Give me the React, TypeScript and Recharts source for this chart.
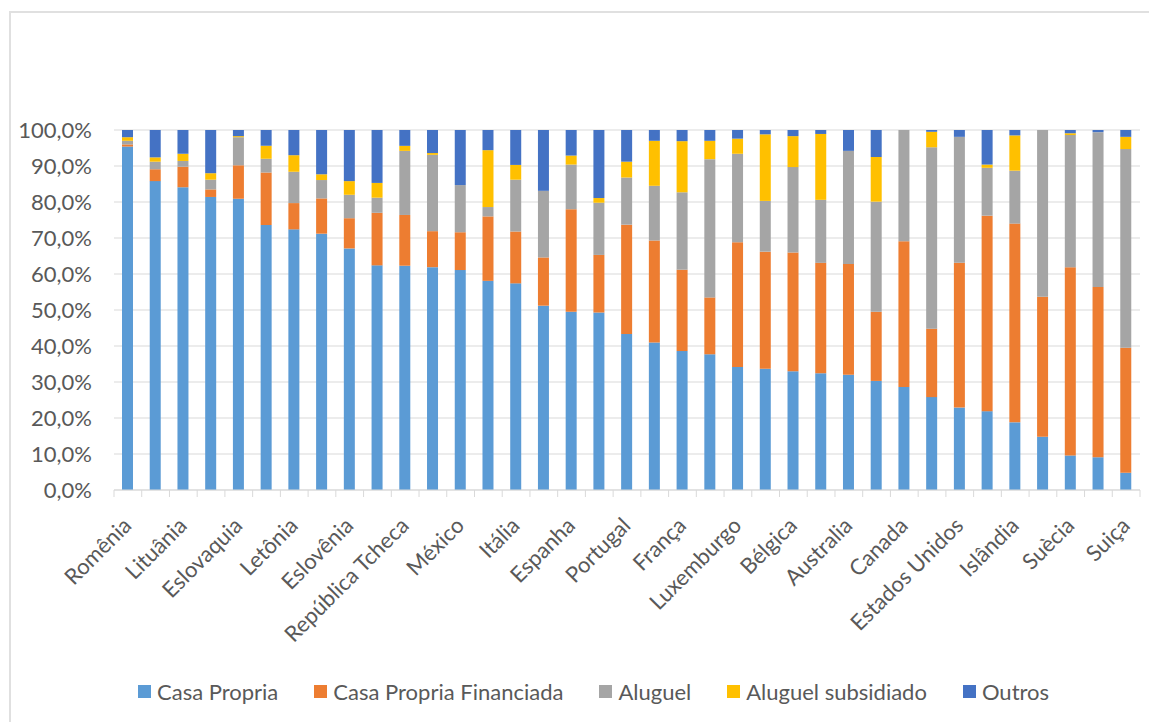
import React from "react";
import { BarChart, Bar, XAxis, YAxis, CartesianGrid, Legend } from "recharts";

const categories = [
  "Romênia", "Hungria", "Lituânia", "Bulgária", "Eslovaquia", "Estônia", "Letônia", "Croácia",
  "Eslovênia", "Polônia", "República Tcheca", "Grécia", "México", "Malta", "Itália", "Chile",
  "Espanha", "Japão", "Portugal", "Irlanda", "França", "Coreia", "Luxemburgo", "Finlândia",
  "Bélgica", "Reino Unido", "Australia", "Áustria", "Canada", "Alemanha", "Estados Unidos", "Noruega",
  "Islândia", "Dinamarca", "Suècia", "Holanda", "Suiça",
];

const casaPropria = [
  95.4, 85.8, 84.1, 81.4, 80.9, 73.6, 72.4, 71.2, 67.1, 62.4, 62.3, 61.9, 61.1, 58.1, 57.4, 51.2,
  49.5, 49.3, 43.3, 41.0, 38.6, 37.7, 34.2, 33.7, 33.0, 32.4, 32.0, 30.3, 28.6, 25.8, 22.9, 21.9,
  18.8, 14.8, 9.6, 9.1, 4.8,
];
const casaPropriaFinanciada = [
  0.6, 3.3, 5.7, 2.1, 9.3, 14.6, 7.3, 9.8, 8.4, 14.6, 14.1, 10.0, 10.5, 17.9, 14.4, 13.4,
  28.5, 16.0, 30.4, 28.3, 22.6, 15.8, 34.6, 32.5, 33.0, 30.7, 30.8, 19.2, 40.5, 19.0, 40.2, 54.3,
  55.2, 38.9, 52.3, 47.3, 34.7,
];
const aluguel = [
  1.0, 2.1, 1.6, 2.7, 7.8, 3.8, 8.7, 5.1, 6.5, 4.2, 17.8, 21.2, 13.1, 2.6, 14.4, 18.5,
  12.4, 14.5, 13.1, 15.2, 21.5, 38.4, 24.6, 14.1, 23.7, 17.5, 31.4, 30.6, 30.9, 50.4, 35.0, 13.3,
  14.7, 46.3, 36.7, 43.0, 55.2,
];
const aluguelSubsidiado = [
  1.0, 1.2, 2.0, 1.8, 0.3, 3.6, 4.6, 1.6, 3.8, 4.1, 1.4, 0.5, 0.0, 15.8, 4.1, 0.0,
  2.5, 1.3, 4.4, 12.5, 14.2, 5.1, 4.2, 18.5, 8.6, 18.3, 0.0, 12.4, 0.0, 4.3, 0.0, 0.9,
  9.8, 0.0, 0.5, 0.0, 3.4,
];
const outros = [
  2.0, 7.6, 6.6, 12.0, 1.7, 4.4, 7.0, 12.3, 14.2, 14.7, 4.4, 6.4, 15.3, 5.6, 9.7, 16.9,
  7.1, 18.9, 8.8, 3.0, 3.1, 3.0, 2.4, 1.2, 1.7, 1.1, 5.8, 7.5, 0.0, 0.5, 1.9, 9.6,
  1.5, 0.0, 0.9, 0.6, 1.9,
];

const yTicks = [0, 10, 20, 30, 40, 50, 60, 70, 80, 90, 100];

const seriesNames = ["Casa Propria", "Casa Propria Financiada", "Aluguel", "Aluguel subsidiado", "Outros"];
const seriesKeys = ["casa", "fin", "alug", "sub", "out"];
const seriesColors = ["#5B9BD5", "#ED7D31", "#A5A5A5", "#FFC000", "#4472C4"];

const data = categories.map((name, i) => ({
  name,
  casa: casaPropria[i],
  fin: casaPropriaFinanciada[i],
  alug: aluguel[i],
  sub: aluguelSubsidiado[i],
  out: outros[i],
}));

const FONT = "Lato, 'Noto Sans', sans-serif";
const FS = 22;
const TEXT = "#595959";
const GRID = "#D9D9D9";

const CHART_W = 1149;
const CHART_H = 714;
const MARGIN = { top: 122, right: 17, bottom: 11, left: 0 };
const Y_W = 106;
const PLOT_W = CHART_W - MARGIN.left - MARGIN.right - Y_W;

function XTick(props: any) {
  const { x, y, index, payload } = props;
  const bw = PLOT_W / categories.length;
  const last = index === categories.length - 1;
  const tx = x + 5;
  const ty = y + 37;
  return (
    <g>
      <line x1={x - bw / 2} y1={y} x2={x - bw / 2} y2={y + 7} stroke={GRID} strokeWidth={1} />
      {last && <line x1={x + bw / 2} y1={y} x2={x + bw / 2} y2={y + 7} stroke={GRID} strokeWidth={1} />}
      {index % 2 === 0 && (
        <text
          x={tx}
          y={ty}
          textAnchor="end"
          fill={TEXT}
          fontSize={FS}
          fontFamily={FONT}
          transform={`rotate(-45, ${tx}, ${ty})`}
        >
          {payload.value}
        </text>
      )}
    </g>
  );
}

function LegendContent() {
  return (
    <div
      style={{
        display: "flex",
        alignItems: "center",
        paddingLeft: 130,
        fontFamily: FONT,
        fontSize: FS,
        color: TEXT,
        height: 40,
        whiteSpace: "nowrap",
      }}
    >
      {seriesNames.map((n, i) => (
        <div key={n} style={{ display: "flex", alignItems: "center", marginRight: 36 }}>
          <span style={{ width: 13, height: 13, background: seriesColors[i], display: "inline-block", marginRight: 6 }} />
          <span>{n}</span>
        </div>
      ))}
    </div>
  );
}

const fmt = (v: number) => `${v.toFixed(1).replace(".", ",")}%`;

export default function App() {
  return (
    <div style={{ position: "relative", width: CHART_W, height: CHART_H, overflow: "hidden", background: "#fff" }}>
      <div
        style={{
          position: "absolute",
          left: 1,
          top: 3,
          width: 1300,
          height: 900,
          borderLeft: "2px solid #E0E0E0",
          borderTop: "2px solid #E0E0E0",
          boxSizing: "border-box",
        }}
      />
      <div style={{ position: "absolute", left: 0, top: 0 }}>
        <BarChart width={CHART_W} height={CHART_H} data={data} margin={MARGIN} barCategoryGap={0}>
          <CartesianGrid vertical={false} stroke={GRID} strokeWidth={1} />
          <XAxis
            dataKey="name"
            interval={0}
            tickLine={false}
            tickSize={0}
            tickMargin={0}
            axisLine={{ stroke: GRID, strokeWidth: 1 }}
            tick={<XTick />}
            height={181}
          />
          <YAxis
            width={Y_W}
            domain={[0, 100]}
            ticks={yTicks}
            tickFormatter={fmt}
            axisLine={false}
            tickLine={false}
            tickSize={0}
            tickMargin={22}
            tick={{ fill: TEXT, fontSize: FS, fontFamily: FONT }}
            allowDataOverflow
          />
          <Legend verticalAlign="bottom" height={40} content={<LegendContent />} />
          {seriesKeys.map((k, i) => (
            <Bar
              key={k}
              dataKey={k}
              name={seriesNames[i]}
              stackId="a"
              fill={seriesColors[i]}
              barSize={11}
              isAnimationActive={false}
            />
          ))}
        </BarChart>
      </div>
    </div>
  );
}
